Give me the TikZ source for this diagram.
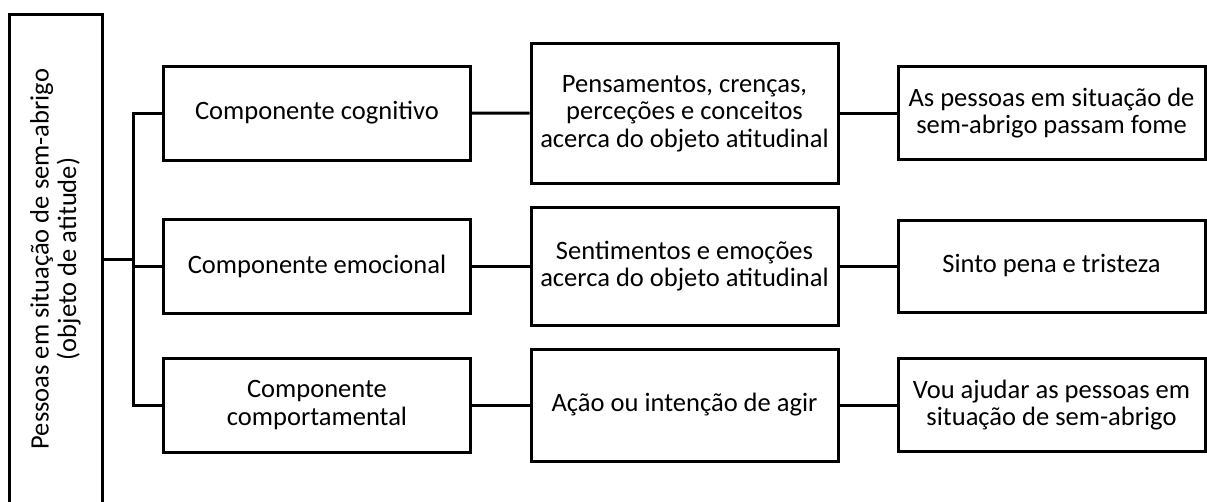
\documentclass[tikz,border=0pt]{standalone}
\usepackage{fontspec}
\setmainfont{Carlito}

\begin{document}
\begin{tikzpicture}[x=0.75pt, y=-0.75pt, line width=2.25pt,
    box/.style = {draw, rectangle, align=center, inner sep=0pt, minimum width=230.25pt, font=\fontsize{19.9}{20.6}\selectfont}]

    \useasboundingbox (0,0) rectangle (1207,501);

    \node [box, rotate=90, minimum width=367.5pt, minimum height=69.75pt] (obj) at (55.5, 259) {Pessoas em situação de sem-abrigo\\(objeto de atitude)};

    \node [box, minimum height=70.5pt] (cog) at (317, 113) {Componente cognitivo};
    \node [box, minimum height=70.5pt] (emo) at (317, 266) {Componente emocional};
    \node [box, minimum height=70.5pt] (comport) at (317, 405) {Componente\\comportamental};

    \node [box, minimum height=105pt] (pens) at (684.5, 113.3) {Pensamentos, crenças,\\perceções e conceitos\\acerca do objeto atitudinal};
    \node [box, minimum height=88.5pt] (sent) at (684.5, 266) {Sentimentos e emoções\\acerca do objeto atitudinal};
    \node [box, minimum height=84pt] (acao) at (684.5, 405) {Ação ou intenção de agir};

    \node [box, minimum height=69.75pt] (fome) at (1051.5, 113.3) {As pessoas em situação de\\sem-abrigo passam fome};
    \node [box, minimum height=69pt] (pena) at (1051.5, 266) {Sinto pena e tristeza};
    \node [box, minimum height=70pt] (ajuda) at (1051.5, 405) {Vou ajudar as pessoas em\\situação de sem-abrigo};

    \coordinate (bus) at (133, 259);

    \draw (obj.south) -- (bus);
    \draw (cog.west) -| (bus) |- (comport.west);
    \draw (emo.west) -- (emo.west -| bus);

    \draw (cog) -- (pens);
    \draw (pens) -- (fome);
    \draw (emo) -- (sent);
    \draw (sent) -- (pena);
    \draw (comport) -- (acao);
    \draw (acao) -- (ajuda);

\end{tikzpicture}
\end{document}
